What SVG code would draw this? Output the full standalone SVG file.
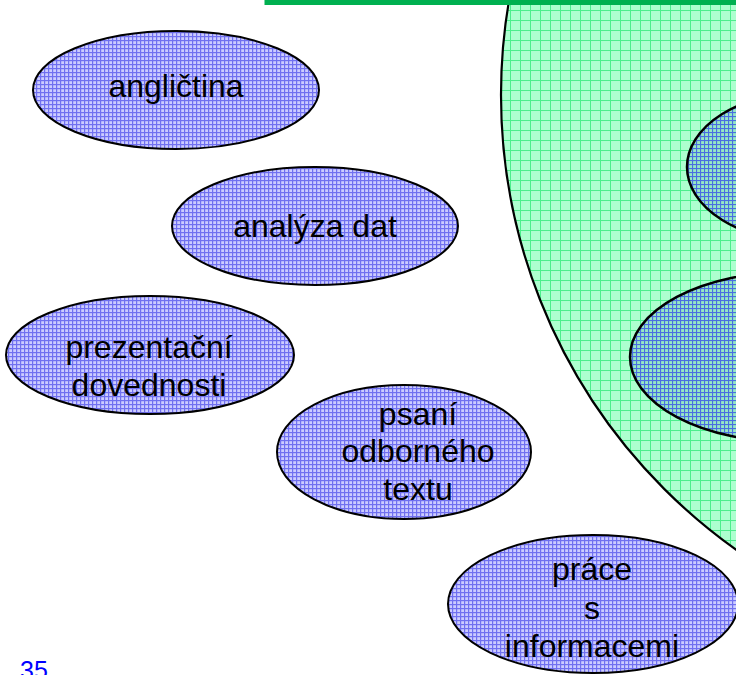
<svg xmlns="http://www.w3.org/2000/svg" width="736" height="675" viewBox="0 0 736 675">
<defs>
<pattern id="pBlue" width="4" height="4" patternUnits="userSpaceOnUse">
<rect width="4" height="4" fill="#ccccff"/>
<rect x="0" y="0" width="4" height="1.2" fill="#7070f0"/>
<rect x="0" y="0" width="1.2" height="4" fill="#7070f0"/>
</pattern>
<pattern id="pGreen" width="10" height="10" patternUnits="userSpaceOnUse">
<rect width="10" height="10" fill="#adffcf"/>
<rect x="0" y="0" width="10" height="1" fill="#4cee8c"/>
<rect x="0" y="0" width="1" height="10" fill="#4cee8c"/>
</pattern>
<pattern id="pMix" width="4" height="4" patternUnits="userSpaceOnUse">
<rect width="4" height="4" fill="#96e8c4"/>
<rect x="0" y="0" width="4" height="1.1" fill="#4a6ee0"/>
<rect x="0" y="0" width="1.1" height="4" fill="#4a6ee0"/>
</pattern>
</defs>
<style>
.blue{fill:url(#pBlue);stroke:#000;stroke-width:2}
.mix{fill:url(#pMix);stroke:#000;stroke-width:2.5}
.big{fill:url(#pGreen);stroke:#000;stroke-width:2.2}
.t{font-family:"Liberation Sans",Arial,sans-serif;font-size:32px;fill:#000;text-anchor:middle}
</style>
<rect width="736" height="675" fill="#fff"/>
<g id="bigcircle">
<circle cx="1058" cy="95" r="557" class="big"/>
</g>
<g id="inner1">
<ellipse cx="807" cy="167" rx="120" ry="75" class="mix"/>
</g>
<g id="inner2">
<ellipse cx="790" cy="357" rx="160" ry="85" class="mix"/>
</g>
<g id="titlebar">
<rect x="267" y="-100" width="560" height="102.5" fill="#fff" stroke="#00b050" stroke-width="5"/>
</g>
<g id="anglictina">
<ellipse cx="176" cy="90" rx="143" ry="59" class="blue"/>
<text class="t" x="176" y="97">angličtina</text>
</g>
<g id="analyza">
<ellipse cx="315" cy="226" rx="143" ry="59" class="blue"/>
<text class="t" x="315" y="237">analýza dat</text>
</g>
<g id="prezentacni">
<ellipse cx="150" cy="355" rx="144" ry="59" class="blue"/>
<text class="t" x="149" y="358">prezentační</text>
<text class="t" x="149" y="396">dovednosti</text>
</g>
<g id="psani">
<ellipse cx="404" cy="452" rx="127" ry="67" class="blue"/>
<text class="t" x="418" y="425">psaní</text>
<text class="t" x="418" y="462">odborného</text>
<text class="t" x="418" y="500">textu</text>
</g>
<g id="prace">
<ellipse cx="593" cy="604" rx="145" ry="69" class="blue"/>
<text class="t" x="592" y="580">práce</text>
<text class="t" x="592" y="619">s</text>
<text class="t" x="592" y="657">informacemi</text>
</g>
<text x="20" y="679" font-family="Liberation Sans,Arial,sans-serif" font-size="25" fill="#0000ff">35</text>
</svg>
